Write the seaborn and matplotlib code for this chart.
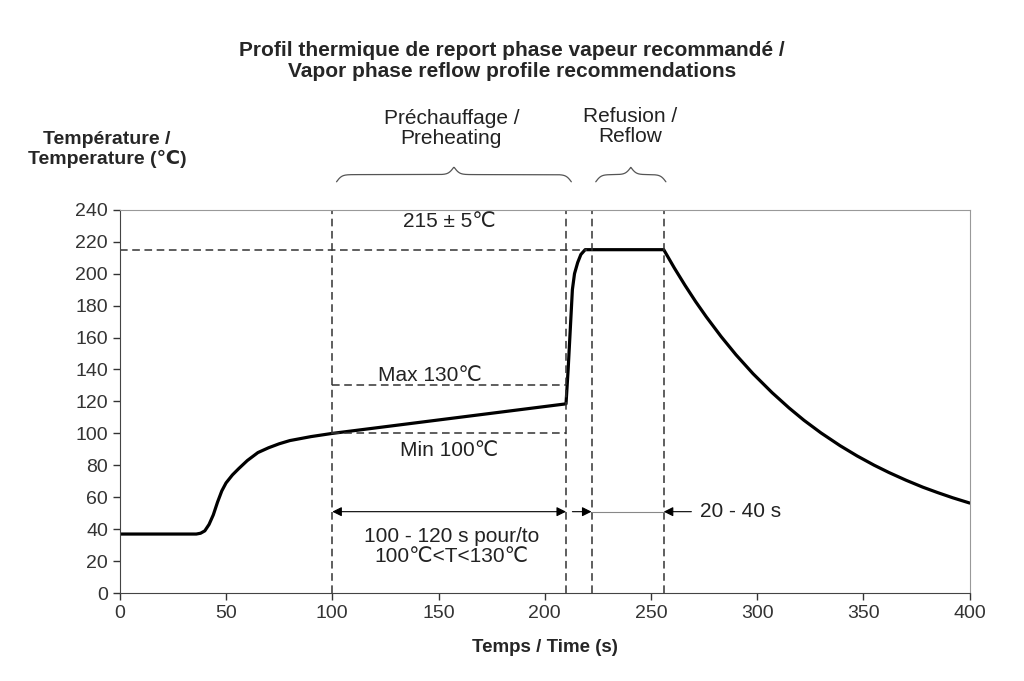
import numpy as np
import pandas as pd
import seaborn as sns
import matplotlib.pyplot as plt

# profile
time_s = [0, 36, 38, 40, 42, 44, 46, 48, 50, 53, 56, 60, 65, 70, 75, 80, 90, 100,
          210, 211, 212, 213, 214, 215.5, 217, 219,
          256, 261, 266, 271, 276, 283, 290, 298, 307, 315, 322, 330, 339, 347,
          355, 362, 370, 378, 385, 392, 400]
temp_c = [37, 37, 37.5, 39, 43, 49, 57, 64, 69, 74, 78, 83, 88, 91, 93.5, 95.5, 98, 100,
          118.5, 140, 165, 190, 200, 207, 212, 215,
          215, 203.5, 192.7, 182.5, 173, 160.6, 149.2, 137.4, 125.5, 115.9, 108.2, 100.3,
          92.3, 85.9, 80.1, 75.5, 70.7, 66.3, 62.9, 59.7, 56.4]

zone_x = [100, 210, 222, 256]          # dashed verticals
peak_temp = 215
pre_min, pre_max = 100, 130
x_ticks = list(range(0, 401, 50))
y_ticks = list(range(0, 241, 20))

df = pd.DataFrame({'t': time_s, 'T': temp_c})

sns.set_style("ticks")
plt.rcParams['font.family'] = ['Liberation Sans', 'DejaVu Sans']

fig = plt.figure(figsize=(10.24, 6.81), dpi=100)
ax = fig.add_axes([0.117, 0.129, 0.830, 0.563])

sns.lineplot(data=df, x='t', y='T', color='black', lw=2.3, sort=False,
             estimator=None, ax=ax)

dash = dict(color='#333333', lw=1.1, ls=(0, (5, 3)))
for xv in zone_x:
    ax.axvline(xv, **dash)
ax.plot([0, 220], [peak_temp, peak_temp], **dash)
ax.plot([100, 210], [pre_max, pre_max], **dash)
ax.plot([100, 210], [pre_min, pre_min], **dash)

# arrows
ya = 51
ap = dict(color='black', lw=0.8, shrinkA=0, shrinkB=0, mutation_scale=14)
ax.annotate('', xy=(210, ya), xytext=(100, ya), arrowprops=dict(arrowstyle='<|-|>', **ap))
ax.annotate('', xy=(222, ya), xytext=(213, ya), arrowprops=dict(arrowstyle='-|>', **ap))
ax.plot([222, 256], [ya, ya], color='#888888', lw=0.8)
ax.annotate('', xy=(256, ya), xytext=(269, ya), arrowprops=dict(arrowstyle='-|>', **ap))

fs = 15
tc = '#222222'
ax.text(273, ya, '20 - 40 s', fontsize=fs, color=tc, va='center', ha='left')
ax.text(156, 29, '100 - 120 s pour/to\n100℃<T<130℃', fontsize=fs, color=tc,
        ha='center', va='center', linespacing=1.05)
ax.text(155, 89, 'Min 100℃', fontsize=fs, color=tc, ha='center', va='center')
ax.text(146, 136.5, 'Max 130℃', fontsize=fs, color=tc, ha='center', va='center')
ax.text(155, 232.5, '215 ± 5℃', fontsize=fs, color=tc, ha='center', va='center')


def brace(x0, x1, ybase, beta=1.0):
    x = np.linspace(x0, x1, 400)
    half = x[:200]
    yh = 1 / (1 + np.exp(-beta * (half - half[0]))) + 1 / (1 + np.exp(-beta * (half - half[-1])))
    y = np.concatenate((yh, yh[::-1]))
    ax.plot(x, ybase + 9 * (y - 0.5), color='#555555', lw=0.9, clip_on=False)


brace(102, 212.5, 257.5, beta=0.8)
brace(224, 257, 257.5, beta=0.8)
ax.text(156, 291, 'Préchauffage /\nPreheating', fontsize=fs, color=tc,
        ha='center', va='center', linespacing=1.05)
ax.text(240, 292, 'Refusion /\nReflow', fontsize=fs, color=tc,
        ha='center', va='center', linespacing=1.05)

ax.set_xlim(0, 400)
ax.set_ylim(0, 240)
ax.set_xticks(x_ticks)
ax.set_yticks(y_ticks)
ax.tick_params(labelsize=14, colors='#333333', length=5, width=1, direction='out')
ax.set_xlabel('Temps / Time (s)', fontsize=13.5, fontweight='bold', labelpad=12)
ax.set_ylabel('')
for side in ['left', 'bottom']:
    ax.spines[side].set_color('#444444')
for side in ['top', 'right']:
    ax.spines[side].set_visible(True)
    ax.spines[side].set_color('#999999')

fig.text(0.1045, 0.78, 'Température /\nTemperature (℃)', fontsize=14,
         fontweight='bold', ha='center', va='center', linespacing=1.15)
fig.text(0.5, 1 - 61 / 681, 'Profil thermique de report phase vapeur recommandé /\n'
         'Vapor phase reflow profile recommendations', fontsize=15,
         fontweight='bold', ha='center', va='center', linespacing=1.1)

plt.savefig('out.png', dpi=100)
plt.close()
